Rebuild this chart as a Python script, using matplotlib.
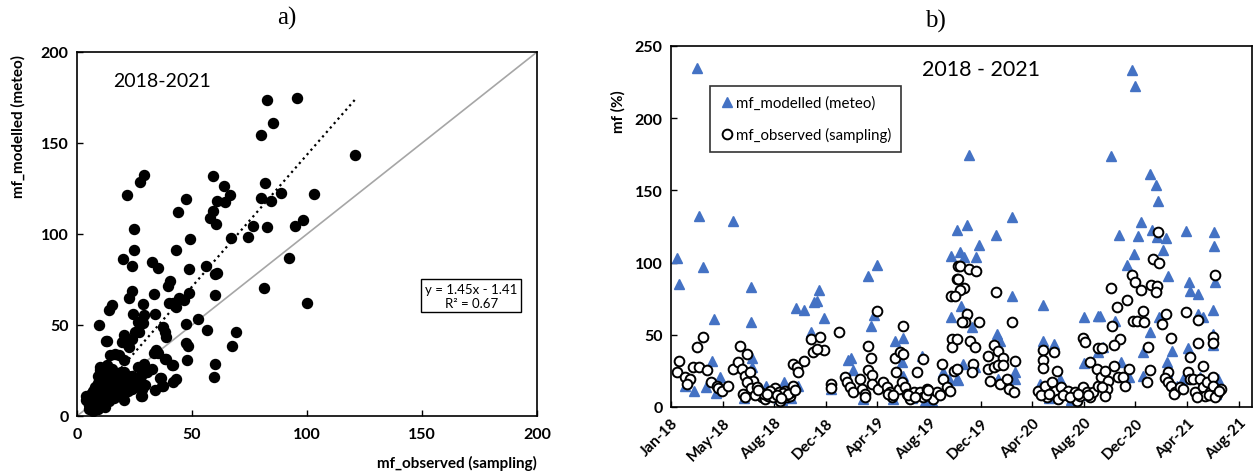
import numpy as np
import pandas as pd
import matplotlib
matplotlib.use("Agg")
import matplotlib.pyplot as plt
import matplotlib.dates as mdates

plt.rcParams['font.family'] = ['Lato', 'DejaVu Sans']

# ---- panel a: observed vs modelled (sampling days 2018-2021) ----
obs_a = [95.5, 82.4, 85, 80, 121, 29, 27.4, 59.1, 81.6, 63.8, 66.4, 88.5, 102.9, 21.5, 47.5,
         80, 84.2, 60.7, 64.2, 59.1, 43.7, 58, 60.3, 82.8, 94.7, 98.3, 76.6, 24.6, 74.3, 66.9,
         49.1, 24.6, 43.2, 92.1, 20, 32.4, 23.8, 35.1, 48.8, 56, 59.9, 60.8, 40.6, 39.5, 81.3,
         23.8, 48.8, 59.9, 33.3, 44.4, 46.7, 22.7, 39.8, 41.8, 42.9, 99.8, 28.6, 15, 13.8, 24.3,
         34, 28.9, 52.5, 26.6, 28.6, 47.2, 9.6, 56.5, 68.9, 25, 27, 37.5, 38.2, 38.5, 20.4,
         24, 19.7, 13.2, 47.5, 48.3, 67.3, 22.4, 22, 34.4, 35.1, 16.6, 14.2, 18.1, 20.4, 38.5,
         47.8, 41.8, 59.9, 28.9, 26.6, 32.8, 36.4, 42.9, 41.8, 37.5, 59.6, 34, 28.2, 20.4, 28.2,
         29.7, 30.5, 23.5, 20.4, 12.5, 27.8, 36.8, 41.4, 36.1, 28.1, 38.3, 33.5,
         4, 4, 5, 5, 5, 5, 6, 6, 6, 6, 6, 7, 7, 7, 7, 7, 8, 8, 8, 8, 8, 8, 9, 9, 9, 9, 9, 9, 9,
         10, 10, 10, 10, 10, 10, 10, 10, 11, 11, 11, 11, 11, 11, 12, 12, 12, 12, 12, 12,
         13, 13, 13, 13, 13, 14, 14, 14, 14, 14, 15, 15, 15, 15, 16, 16, 16, 16, 17, 17, 17,
         18, 18, 18, 19, 19, 19, 20, 20, 21, 21, 22, 22, 23, 23, 24, 25, 26, 27, 28, 30, 24, 22,
         13, 15, 12, 11, 14, 16, 18, 20, 7, 9]
mod_a = [174.7, 173.4, 161.2, 154.2, 143.2, 132.2, 128.6, 131.7, 128.2, 126.4, 121.2, 122.7,
         122.2, 121.2, 119.4, 119.8, 118.1, 118.1, 117.6, 112.5, 112.1, 109, 105.5, 103.8, 104.2,
         107.5, 104.2, 102.6, 98.4, 98, 97.1, 91.4, 91.4, 86.8, 86.4, 84.6, 82.4, 81.3, 81, 82.4,
         78.2, 78.6, 74, 71.4, 70.3, 68.7, 67.6, 66.7, 66.8, 64.8, 63.6, 64.8, 62.1, 62.3, 59.9,
         62.1, 61.7, 61.2, 58.4, 56.2, 56.2, 55.3, 53.1, 51.6, 51.1, 50.7, 49.8, 47.4, 46.2, 46.2,
         46.2, 48.9, 46.2, 43.4, 44.3, 42.5, 40.7, 41.2, 40.3, 38.5, 38.3, 37.9, 38.8, 36.1, 34.8,
         34.2, 33.7, 33.3, 30.6, 31.5, 30.6, 28.2, 28.8, 28.8, 26.9, 26, 20.9, 20.5, 18.7, 16.5,
         21.4, 14.1, 11, 8.6, 15, 16.8, 24.2, 20.5, 24.2, 41, 11.2, 16.6, 28.2, 20.7, 14.8, 31.3,
         34.6,
         11, 9, 6, 8, 10, 4, 5, 7, 9, 12, 4, 6, 8, 10, 14, 5, 7, 9, 11, 13, 16, 4, 6, 8, 10, 12,
         15, 18, 22, 7, 9, 11, 14, 17, 20, 25, 27, 8, 10, 13, 16, 19, 23, 9, 11, 14, 18, 21, 26,
         10, 12, 15, 17, 20, 11, 13, 16, 19, 24, 12, 14, 17, 21, 13, 16, 19, 22, 12, 15, 18,
         14, 17, 20, 15, 19, 24, 13, 17, 16, 19, 14, 18, 17, 20, 15, 18, 20, 16, 22, 24, 22, 22,
         28, 26, 5, 6, 8, 10, 11, 11, 3, 4]
fit_slope, fit_icept, fit_r2 = 1.45, -1.41, 0.67

# ---- panel b: time series, days counted from 1 Jan 2018 ----
start = pd.Timestamp('2018-01-01')
mod_days = [60, 66, 143, 13, 75, 19, 185, 290, 310, 101, 186, 333, 326, 96, 114, 189, 189, 33,
            53, 81, 105, 170, 263, 270, 296, 220, 230, 250, 280, 240, 205, 258,
            664, 651, 345, 339, 356, 459, 478, 471, 465, 412, 419, 424, 521, 539, 533, 537, 540,
            651, 647, 664, 632, 371, 447, 606, 517, 583, 560, 590, 615,
            693, 794, 755, 688, 715, 709, 672, 682, 792, 674, 685, 699, 757, 765, 680, 707, 668,
            800, 800, 864, 864, 891, 961, 994, 961, 994, 858, 905, 761, 880, 930, 950,
            1073, 1079, 1022, 1114, 1127, 1133, 1092, 1042, 1085, 1119, 1129, 1151, 1143, 1077,
            1060, 1197, 1263, 1263, 1265, 1156, 1205, 1208, 1226, 1260, 1225, 1238, 1135, 998,
            1033, 1114, 1098, 1164, 1203, 1005, 1046, 1153, 1260, 1261, 1066, 1098, 1191, 1230,
            1273, 1153, 1176, 1245, 1268]
mod_vals = [235, 132, 129, 103, 97, 85, 83, 68.5, 67, 61, 58.6, 73, 52, 31.6, 20.8, 34, 27.6,
            14.8, 11.3, 14, 9.7, 6, 17.5, 12, 14.8, 14.8, 8, 6, 6, 12, 9, 5,
            122.8, 104.3, 81.2, 73.6, 61.4, 91, 98, 63.7, 56.3, 32.8, 33.7, 25.6, 46, 47.6, 37.8,
            31, 21.7, 62, 19.4, 19.4, 24, 12.5, 5.5, 4.4, 5.5, 35.5, 6, 4, 8,
            174.7, 131.3, 119.3, 126.2, 112.2, 103.6, 107.6, 103.6, 77.1, 70.2, 65.1, 55.2, 50.5,
            46, 29.8, 27.5, 19, 24.5, 19.4, 70.9, 46, 43.6, 62.1, 63.2, 30.5, 37.8, 16, 19.4, 19.4,
            6, 5, 8,
            233.6, 222.5, 173.6, 161.3, 154, 142.9, 128.3, 119.3, 118.2, 122.6, 117.5, 117, 109,
            106, 98.3, 121.6, 121.4, 111.7, 86.8, 91, 86.3, 80.6, 78.2, 67.4, 64.4, 62.1, 62.1,
            63.2, 59.3, 51.7, 38.3, 38.5, 40.6, 41.3, 31.4, 31, 50.5, 42.9, 20.5, 21.7, 19.4, 20.5,
            19.4, 24, 14.8, 12, 9]
obs_days = [13, 19, 33, 44, 36, 52, 61, 66, 75, 83, 94, 106, 110, 118, 133, 145, 160, 176, 156,
            164, 172, 184, 191, 176, 168, 172, 187, 199, 207, 211, 218, 226, 234, 242, 250, 253,
            257, 265, 269, 277, 280, 284, 284, 292, 296, 310, 325, 331, 215, 230, 238, 261, 273,
            195, 203, 222, 246, 255, 288,
            347, 356, 339, 371, 371, 391, 405, 409, 416, 424, 440, 443, 451, 451, 459, 465, 459,
            467, 467, 478, 482, 492, 502, 509, 513, 521, 523, 533, 540, 539, 529, 537, 544, 548,
            556, 564, 571, 585, 579, 587, 595, 602, 610, 618, 630, 633, 641, 649, 653, 653, 651,
            664, 668, 658, 552, 568, 592, 598, 625, 505, 517,
            672, 693, 709, 668, 682, 672, 660, 755, 688, 684, 676, 715, 794, 695, 707, 664, 703,
            701, 664, 738, 752, 761, 773, 800, 738, 750, 761, 773, 742, 765, 781, 785, 798, 864,
            864, 864, 891, 897, 974, 959, 963, 994, 990, 854, 870, 874, 885, 893, 901, 908, 916,
            924, 932, 939, 943, 951, 959, 967, 974, 982, 994, 1001, 860, 878, 912, 928, 947, 970,
            1133, 1120, 1135, 1265, 1073, 1079, 1092, 1115, 1129, 1128, 1023, 1060, 1038, 1097,
            1197, 1150, 1075, 1084, 1100, 1141, 1226, 1025, 1043, 1030, 1162, 1109, 1225, 1260,
            1261, 1208, 1002, 1236, 1029, 1009, 1066, 1114, 1156, 1203, 1017, 1040, 1052, 1056,
            1106, 1149, 1156, 1162, 1172, 1170, 1184, 1191, 1207, 1213, 1218, 1230, 1238, 1246,
            1253, 1261, 1261, 1269, 1278, 1242, 1222, 1013, 1009, 1002, 1250, 1266, 1274]
obs_vals = [24.5, 32, 20.5, 19.4, 16, 27.5, 41.3, 28, 48.7, 25.6, 17, 14.8, 12.9, 11.3, 14.8,
            26.3, 42, 36.7, 31.4, 26.3, 21.7, 24, 18.2, 17, 9, 6.7, 12.9, 13.6, 10.2, 6.7, 5.5,
            7.4, 10.2, 12.9, 10.2, 4.4, 7.8, 11.3, 6.7, 7.8, 10.2, 14.8, 29.8, 27.5, 24, 32, 47,
            37.8, 9, 11, 6.7, 10, 9, 8, 12, 9, 8, 6, 12,
            48.2, 39.5, 40, 16, 13, 52.2, 20.5, 17, 13.6, 10.6, 19.4, 12.5, 9, 6.7, 42.4, 34,
            25.6, 22.2, 16, 66.7, 12.5, 17, 13.6, 10.2, 6.7, 33.7, 24.5, 37.8, 36.7, 56.3, 12.5,
            17, 13.6, 9, 5.5, 10.2, 24, 33.3, 10.2, 6.7, 12.5, 9, 5.5, 10.2, 29.8, 19.4, 13.6,
            11.3, 47, 41.3, 76.6, 88.6, 97.9, 25.2, 8, 7, 8, 12, 8, 9, 8,
            97.9, 95.5, 94.4, 88.6, 82.4, 81.2, 77, 79.4, 64.4, 59.1, 58.6, 58.6, 58.6, 46, 41.3,
            47, 29.8, 24, 26.3, 35.5, 43, 38.5, 33.9, 32, 26.3, 27.5, 29, 29, 18.2, 16, 19.4,
            12.5, 10.6, 39.7, 32.8, 26.8, 37.8, 25.2, 31, 47.8, 45.2, 40.6, 26.3, 11.3, 14.8, 6.7,
            17, 11.3, 5.5, 13.6, 9, 11.3, 6.7, 10.2, 4.4, 7.8, 13.6, 10.2, 6.7, 10.2, 14.8, 20.5,
            8, 9, 8, 7, 9, 8,
            121, 102.5, 99.7, 91.6, 91.6, 86.8, 81.2, 84.7, 83.5, 79.4, 82.2, 74.1, 69, 66.7, 66,
            64.4, 59.8, 59.8, 59.1, 57.5, 60.5, 55.9, 47, 42.9, 47.5, 41.3, 44.3, 48.7, 44.1,
            34.4, 40.6, 28.6, 28.6, 25.2, 26.3, 25.8, 24, 24.5, 18.2, 20.5, 20.5, 14.8, 17, 19.9,
            17.5, 14.3, 10.6, 9, 13.6, 12.5, 19.4, 19.4, 10.2, 19.4, 13.6, 17, 10.2, 20.5, 14.8,
            9, 12.5, 7.8, 6.7, 12.5, 7.8, 13.6, 8, 7, 11]

mod_dates = start + pd.to_timedelta(mod_days, unit='D')
obs_dates = start + pd.to_timedelta(obs_days, unit='D')

fig = plt.figure(figsize=(12.55, 4.77), dpi=100)
ax1 = fig.add_axes([0.0614, 0.1258, 0.3665, 0.7631])
ax2 = fig.add_axes([0.5347, 0.1447, 0.4629, 0.7568])

# panel a
ax1.plot([0, 200], [0, 200], color='#a6a6a6', lw=1.2, zorder=1)
ax1.scatter(obs_a, mod_a, s=52, color='black', zorder=2)
xf = np.array([min(obs_a), max(obs_a)])
ax1.plot(xf, fit_slope * xf + fit_icept, color='black', ls=':', lw=1.6, zorder=3)
ax1.set_xlim(0, 200)
ax1.set_ylim(0, 200)
ax1.set_xticks([0, 50, 100, 150, 200])
ax1.set_yticks([0, 50, 100, 150, 200])
ax1.tick_params(direction='in', length=4, width=1, labelsize=11.5, pad=6)
ax1.tick_params(axis='x', pad=8)
for lab in ax1.get_xticklabels() + ax1.get_yticklabels():
    lab.set_fontweight('bold')
for sp in ax1.spines.values():
    sp.set_linewidth(1.2)
ax1.text(0.078, 0.923, '2018-2021', transform=ax1.transAxes, fontsize=14, va='center')
ax1.text(0.857, 0.331, 'y = 1.45x - 1.41\nR² = %.2f' % fit_r2, transform=ax1.transAxes,
         fontsize=9.5, ha='center', va='center', linespacing=1.2,
         bbox=dict(boxstyle='square,pad=0.3', fc='white', ec='black', lw=1))

# panel b
ax2.plot(mod_dates, mod_vals, ls='none', marker='^', ms=7.5, color='#4472c4',
         label='mf_modelled (meteo)', zorder=2)
ax2.plot(obs_dates, obs_vals, ls='none', marker='o', ms=7, mfc='white', mec='black', mew=1.4,
         label='mf_observed (sampling)', zorder=3)
ax2.set_xlim(start, start + pd.Timedelta(days=1351))
ax2.set_ylim(0, 250)
ax2.set_yticks([0, 50, 100, 150, 200, 250])
ticks = [start + pd.Timedelta(days=120 * i) for i in range(12)]
ax2.set_xticks(ticks)
ax2.xaxis.set_major_formatter(mdates.DateFormatter('%b-%y'))
ax2.tick_params(direction='in', length=4, width=1, labelsize=11.5, pad=6)
for lab in ax2.get_yticklabels():
    lab.set_fontweight('bold')
for lab in ax2.get_xticklabels():
    lab.set_fontweight('bold')
    lab.set_fontsize(11)
    lab.set_rotation(45)
    lab.set_ha('right')
    lab.set_va('top')
    lab.set_rotation_mode('anchor')
for sp in ax2.spines.values():
    sp.set_linewidth(1.2)
ax2.text(0.432, 0.936, '2018 - 2021', transform=ax2.transAxes, fontsize=15.5, va='center')
leg = ax2.legend(loc='upper left', bbox_to_anchor=(0.067, 0.889), borderaxespad=0,
                 fontsize=10.8, frameon=True, fancybox=False, edgecolor='black',
                 labelspacing=1.15, handletextpad=0.1, handlelength=1.0, borderpad=0.65)
leg.get_frame().set_linewidth(1.2)

# axis titles and panel labels
fig.text(18 / 1255, 1 - 127 / 477, 'mf_modelled (meteo)', rotation=90, ha='center',
         va='center', fontsize=11, fontweight='bold')
fig.text(537 / 1255, 1 - 463 / 477, 'mf_observed (sampling)', ha='right', va='center',
         fontsize=11, fontweight='bold')
fig.text(618 / 1255, 1 - 112 / 477, 'mf (%)', rotation=90, ha='center', va='center',
         fontsize=11, fontweight='bold')
fig.text(287 / 1255, 1 - 18 / 477, 'a)', ha='center', va='center', fontsize=18,
         family='Liberation Serif')
fig.text(935 / 1255, 1 - 21 / 477, 'b)', ha='center', va='center', fontsize=18,
         family='Liberation Serif')

fig.savefig('out.png', dpi=100)
